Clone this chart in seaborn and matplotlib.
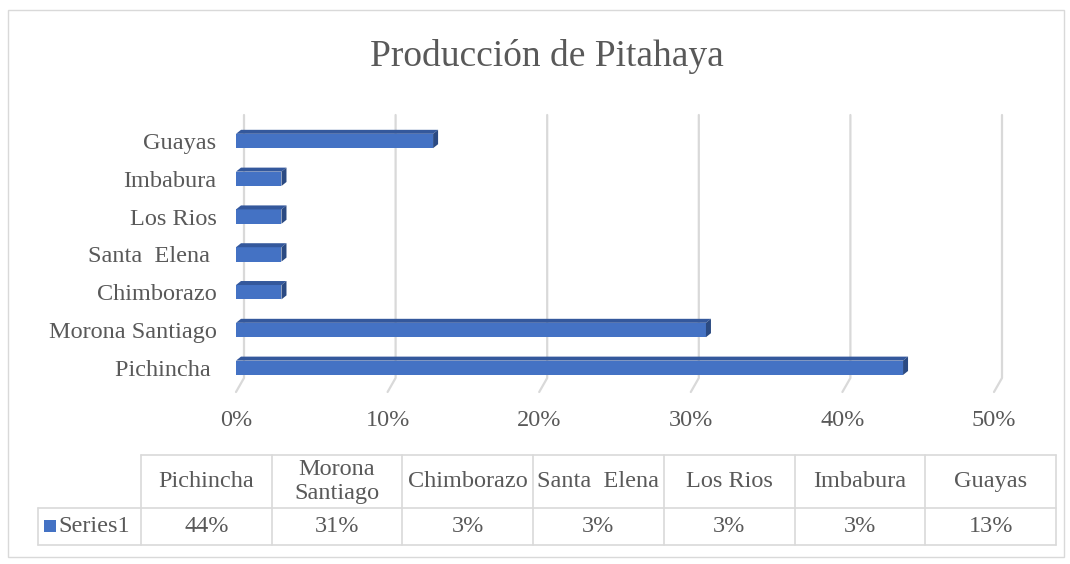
import numpy as np
import pandas as pd
import matplotlib
matplotlib.use("Agg")
import matplotlib.pyplot as plt
import seaborn as sns
from matplotlib.patches import Polygon, Rectangle

# datos
provincias = ["Pichincha", "Morona Santiago", "Chimborazo", "Santa  Elena", "Los Rios", "Imbabura", "Guayas"]
produccion = [0.44, 0.31, 0.03, 0.03, 0.03, 0.03, 0.13]
etiquetas_y = ["Pichincha ", "Morona Santiago", "Chimborazo", "Santa  Elena ", "Los Rios", "Imbabura", "Guayas"]
encabezados = ["Pichincha", "Morona\nSantiago", "Chimborazo", "Santa  Elena", "Los Rios", "Imbabura", "Guayas"]
ticks_x = [0, 0.1, 0.2, 0.3, 0.4, 0.5]
serie = "Series1"
titulo = "Producción de Pitahaya"

W, H = 1070, 564
sns.set_theme(style="white")
plt.rcParams["font.family"] = ["Liberation Serif", "DejaVu Serif"]

gris_txt = "#595959"
gris_lin = "#D9D9D9"
azul = "#4472C4"
azul_top = "#34589C"
azul_lado = "#2B4A82"
fs = 17.5


def fx(px):
    return px / W


def fy(py):
    return 1 - py / H


fig = plt.figure(figsize=(W / 100, H / 100), dpi=100)

# borde del grafico
fig.patches.append(Rectangle((fx(8), fy(557)), fx(1064) - fx(8), fy(10) - fy(557),
                             transform=fig.transFigure, fill=False,
                             edgecolor=gris_lin, lw=1))

fig.text(fx(547), fy(56), titulo, ha="center", va="center",
         fontsize=27, color=gris_txt)

# ejes principales (plano frontal)
ax_l, ax_r, ax_t, ax_b = 236, 994, 115, 392
ax = fig.add_axes([fx(ax_l), fy(ax_b), fx(ax_r) - fx(ax_l), fy(ax_t) - fy(ax_b)])

sx = 0.5 / (ax_r - ax_l)
sy = 1 / 37.8
y_top = -(141 - ax_t) * sy


def ypx(p):
    return y_top + (p - ax_t) * sy


df = pd.DataFrame({"provincia": provincias, "valor": produccion})
orden = provincias[::-1]

# lineas de division (pared del fondo + piso inclinado)
for t in ticks_x:
    ax.plot([t + 8 * sx, t + 8 * sx, t], [ypx(ax_t), ypx(378), ypx(392)],
            color=gris_lin, lw=1.6, clip_on=False, zorder=0)

sns.barplot(data=df, x="valor", y="provincia", order=orden, color=azul,
            width=0.38, saturation=1, linewidth=0, ax=ax, zorder=2)

dx, dy = 5 * sx, 4 * sy
for p in ax.patches:
    x0, w = p.get_x(), p.get_width()
    y0, h = p.get_y(), p.get_height()
    top = Polygon([(x0, y0), (x0 + w, y0), (x0 + w + dx, y0 - dy), (x0 + dx, y0 - dy)],
                  closed=True, facecolor=azul_top, edgecolor="none", zorder=3)
    lado = Polygon([(x0 + w, y0), (x0 + w + dx, y0 - dy), (x0 + w + dx, y0 + h - dy), (x0 + w, y0 + h)],
                   closed=True, facecolor=azul_lado, edgecolor="none", zorder=3)
    ax.add_patch(top)
    ax.add_patch(lado)

ax.set_xlim(0, 0.5)
ax.set_ylim(ypx(ax_b), ypx(ax_t))
ax.set_xticks(ticks_x)
ax.set_xticklabels([f"{int(round(t * 100))}%" for t in ticks_x])
ax.set_yticks(range(len(orden)))
ax.set_yticklabels(etiquetas_y[::-1])
ax.tick_params(axis="both", length=0, labelsize=fs, labelcolor=gris_txt)
ax.tick_params(axis="x", pad=13)
ax.tick_params(axis="y", pad=14)
ax.set_xlabel("")
ax.set_ylabel("")
for s in ax.spines.values():
    s.set_visible(False)
ax.patch.set_alpha(0)

# tabla de datos
tbl = fig.add_axes([fx(38), fy(545), fx(1056) - fx(38), fy(455) - fy(545)])
tbl.set_xlim(38, 1056)
tbl.set_ylim(545, 455)
tbl.axis("off")

x_leg, x_ini, x_fin = 38, 141, 1056
y_ini, y_mid, y_fin = 455, 508, 545
ancho = (x_fin - x_ini) / len(provincias)
bordes = [x_ini + i * ancho for i in range(len(provincias) + 1)]

lw_t = 1.2
tbl.plot([x_ini, x_fin], [y_ini, y_ini], color=gris_lin, lw=lw_t, clip_on=False)
tbl.plot([x_leg, x_fin], [y_mid, y_mid], color=gris_lin, lw=lw_t, clip_on=False)
tbl.plot([x_leg, x_fin], [y_fin, y_fin], color=gris_lin, lw=lw_t, clip_on=False)
tbl.plot([x_leg, x_leg], [y_mid, y_fin], color=gris_lin, lw=lw_t, clip_on=False)
for b in bordes:
    tbl.plot([b, b], [y_ini, y_fin], color=gris_lin, lw=lw_t, clip_on=False)

for i, (enc, val) in enumerate(zip(encabezados, produccion)):
    cx = bordes[i] + ancho / 2
    tbl.text(cx, (y_ini + y_mid) / 2, enc, ha="center", va="center",
             fontsize=fs, color=gris_txt, linespacing=1.15)
    tbl.text(cx, (y_mid + y_fin) / 2, f"{int(round(val * 100))}%", ha="center", va="center",
             fontsize=fs, color=gris_txt)

tbl.add_patch(Rectangle((44, 520), 12, 12, facecolor=azul, edgecolor="none", clip_on=False))
tbl.text(58, (y_mid + y_fin) / 2, serie, ha="left", va="center",
         fontsize=fs, color=gris_txt)

fig.savefig("out.png", dpi=100)
